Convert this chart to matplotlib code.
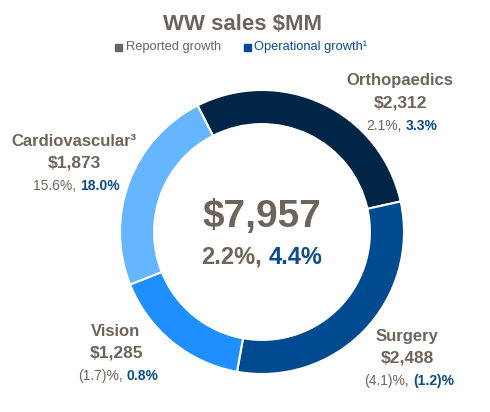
import matplotlib
matplotlib.use('Agg')
import matplotlib.pyplot as plt
from matplotlib.patches import Rectangle

plt.rcParams['font.family'] = ['Liberation Sans', 'DejaVu Sans']

# data
segments = ['Orthopaedics', 'Surgery', 'Vision', 'Cardiovascular\u00b3']
sales = [2312, 2488, 1285, 1873]
reported = ['2.1%,', '(4.1)%,', '(1.7)%,', '15.6%,']
operational = ['3.3%', '(1.2)%', '0.8%', '18.0%']
total_sales = '$7,957'
total_reported = '2.2%,'
total_operational = '4.4%'

colors = ['#002547', '#004A8F', '#1F8FFF', '#66B5FF']
gray = '#6E645A'
blue = '#0D4C8C'

W, H = 490, 412
fig = plt.figure(figsize=(W / 100, H / 100), dpi=100)

# donut, center (262, 232) px, radius 142 px
cx, cy, r = 262, 232, 142
ax = fig.add_axes([(cx - r) / W, (H - cy - r) / H, 2 * r / W, 2 * r / H])
ax.pie(sales, colors=colors, startangle=117, counterclock=False,
       radius=1, wedgeprops=dict(width=0.24, edgecolor='white', linewidth=1.5))
ax.set_xlim(-1, 1)
ax.set_ylim(-1, 1)
ax.axis('off')


def fx(x):
    return x / W


def fy(y):
    return 1 - y / H


def line(x, y, parts, size, weight='normal'):
    # parts: list of (text, color, weight) drawn one after another, centred at x
    txts = []
    for s, c, w in parts:
        txts.append(fig.text(0, fy(y), s, color=c, fontsize=size,
                             fontweight=w, ha='left', va='center'))
    fig.canvas.draw()
    rend = fig.canvas.get_renderer()
    widths = [t.get_window_extent(rend).width for t in txts]
    gap = size * 0.28 * 100 / 72
    total = sum(widths) + gap * (len(txts) - 1)
    pos = x - total / 2
    for t, w in zip(txts, widths):
        t.set_x(fx(pos))
        pos += w + gap


fig.text(fx(242), fy(24), 'WW sales $MM', color=gray, fontsize=16,
         fontweight='bold', ha='center', va='center')

# legend
fig.patches.append(Rectangle((fx(115), fy(51)), 7 / W, 7 / H, color=gray,
                             transform=fig.transFigure, figure=fig))
fig.text(fx(126), fy(47), 'Reported growth', color=gray, fontsize=9.3,
         ha='left', va='center')
fig.patches.append(Rectangle((fx(244), fy(51)), 7 / W, 7 / H, color='#004A8F',
                             transform=fig.transFigure, figure=fig))
fig.text(fx(254), fy(47), 'Operational growth\u00b9', color=blue, fontsize=9.3,
         ha='left', va='center')

# centre
fig.text(fx(cx), fy(217), total_sales, color=gray, fontsize=28,
         fontweight='bold', ha='center', va='center')
line(cx, 257, [(total_reported, gray, 'bold'), (total_operational, blue, 'bold')], 17)

# segment labels
label_pos = [(400, 81), (407, 336), (116, 331), (74, 141)]
for i in range(len(segments)):
    x, y = label_pos[i]
    fig.text(fx(x), fy(y), segments[i], color=gray, fontsize=12,
             fontweight='bold', ha='center', va='center')
    fig.text(fx(x), fy(y + 22), '${:,}'.format(sales[i]), color=gray,
             fontsize=12.5, fontweight='bold', ha='center', va='center')
    line(x + 2, y + 45, [(reported[i], gray, 'normal'),
                         (operational[i], blue, 'bold')], 10)

fig.savefig('out.png', dpi=100)
